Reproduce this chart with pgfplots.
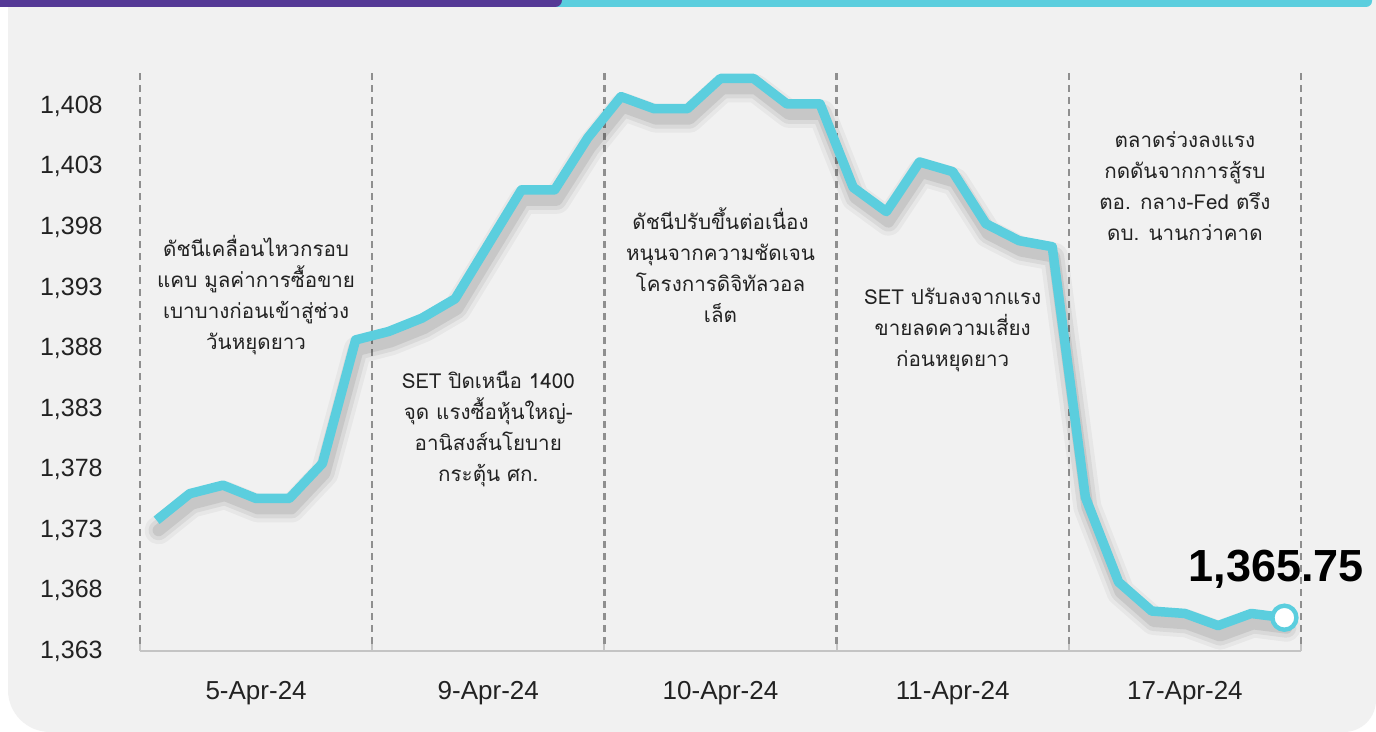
\documentclass[border=0pt]{standalone}
\usepackage{fontspec}
\setmainfont{Liberation Sans}
\newfontfamily\thaifont[Script=Thai]{Loma}
\usepackage{pgfplots}
\pgfplotsset{compat=1.18}
\usepackage{pgfplotstable}
\definecolor{linec}{HTML}{5BCEDE}
\definecolor{purp}{HTML}{553996}
\definecolor{panel}{HTML}{F1F1F1}
\definecolor{txt}{HTML}{222222}
\definecolor{dashc}{HTML}{8F8F8F}
\definecolor{axc}{HTML}{C4C4C4}
\tikzset{thai/.style={font=\thaifont\fontsize{10.3}{15.5}\selectfont, text=txt, align=center}}

\pgfplotstableread{
k v
0 1373.8
1 1376.0
2 1376.7
3 1375.6
4 1375.6
5 1378.5
6 1388.7
7 1389.4
8 1390.5
9 1392.1
10 1396.6
11 1401.1
12 1401.1
13 1405.4
14 1408.8
15 1407.8
16 1407.8
17 1410.3
18 1410.3
19 1408.2
20 1408.2
21 1401.3
22 1399.3
23 1403.4
24 1402.6
25 1398.3
26 1396.9
27 1396.4
28 1375.7
29 1368.7
30 1366.3
31 1366.1
32 1365.1
33 1366.1
34 1365.75
}\settable

\begin{document}
\begin{tikzpicture}
\path[use as bounding box] (0,0) rectangle (688pt,366pt);
\fill[white] (0,0) rectangle (688pt,366pt);
\fill[panel] (4pt,366pt) -- (4pt,21pt) arc[start angle=180,end angle=270,radius=21pt] -- (672pt,0pt) arc[start angle=270,end angle=360,radius=16pt] -- (688pt,366pt) -- cycle;
\fill[linec, rounded corners=3pt] (250pt,372pt) rectangle (686pt,362.5pt);
\fill[purp, rounded corners=3.4pt] (-10pt,372pt) rectangle (281pt,362.5pt);
\begin{axis}[
  at={(70pt,40.5pt)}, anchor=south west, scale only axis,
  width=580.5pt, height=290.5pt,
  xmin=-0.5, xmax=34.5, ymin=1363, ymax=1411,
  axis line style={draw=none}, clip=false,
  xtick={3,10,17,24,31},
  xticklabels={5-Apr-24,9-Apr-24,10-Apr-24,11-Apr-24,17-Apr-24},
  ytick={1363,1368,1373,1378,1383,1388,1393,1398,1403,1408},
  yticklabels={{1,363},{1,368},{1,373},{1,378},{1,383},{1,388},{1,393},{1,398},{1,403},{1,408}},
  major tick length=0pt,
  tick label style={font=\fontsize{12.5}{14}\selectfont, text=txt},
  xticklabel style={anchor=center, yshift=-21pt, font=\fontsize{13}{15}\selectfont},
  yticklabel style={anchor=east, inner sep=0pt, xshift=-18.5pt},
]
\pgfplotsinvokeforeach{-0.5,6.5,13.5,20.5,27.5,34.5}{
  \draw[dashc, line width=1.2pt, dash pattern=on 3.6pt off 2.4pt] (axis cs:#1,1363.6) -- (axis cs:#1,1411);
  \draw[axc, line width=1pt] (axis cs:#1,1363) -- (axis cs:#1,1363.6);
}
\draw[axc, line width=1.1pt] (axis cs:-0.5,1363) -- (axis cs:34.5,1363);

\node[thai] at (axis cs:3,1392.4) {ดัชนีเคลื่อนไหวกรอบ\\แคบ มูลค่าการซื้อขาย\\เบาบางก่อนเข้าสู่ช่วง\\วันหยุดยาว};
\node[thai] at (axis cs:10,1381.3) {SET ปิดเหนือ 1400\\จุด แรงซื้อหุ้นใหญ่-\\อานิสงส์นโยบาย\\กระตุ้น ศก.};
\node[thai] at (axis cs:17,1394.9) {ดัชนีปรับขึ้นต่อเนื่อง\\หนุนจากความชัดเจน\\โครงการดิจิทัลวอล\\เล็ต};
\node[thai] at (axis cs:24,1389.5) {SET ปรับลงจากแรง\\ขายลดความเสี่ยง\\ก่อนหยุดยาว};
\node[thai] at (axis cs:31,1401.4) {ตลาดร่วงลงแรง\\กดดันจากการสู้รบ\\ตอ. กลาง-Fed ตรึง\\ดบ. นานกว่าคาด};

\addplot[draw=black, opacity=0.04, line width=14pt, line join=round, line cap=round, mark=none, yshift=-5pt, xshift=1pt] table[x=k,y=v]{\settable};
\addplot[draw=black, opacity=0.06, line width=10pt, line join=round, line cap=round, mark=none, yshift=-5pt, xshift=1pt] table[x=k,y=v]{\settable};
\addplot[draw=black, opacity=0.08, line width=6pt, line join=round, line cap=round, mark=none, yshift=-5pt, xshift=1pt] table[x=k,y=v]{\settable};
\addplot[linec, line width=4.75pt, line join=round, mark=none] table[x=k,y=v]{\settable};
\addplot[only marks, mark=*, mark size=6pt, mark options={fill=white, draw=linec, line width=2.2pt}] coordinates {(34,1365.75)};
\node[font=\bfseries\fontsize{22.5}{24}\selectfont, text=black, xshift=-4pt, yshift=24pt] at (axis cs:34,1365.75) {1,365.75};
\end{axis}
\end{tikzpicture}
\end{document}
